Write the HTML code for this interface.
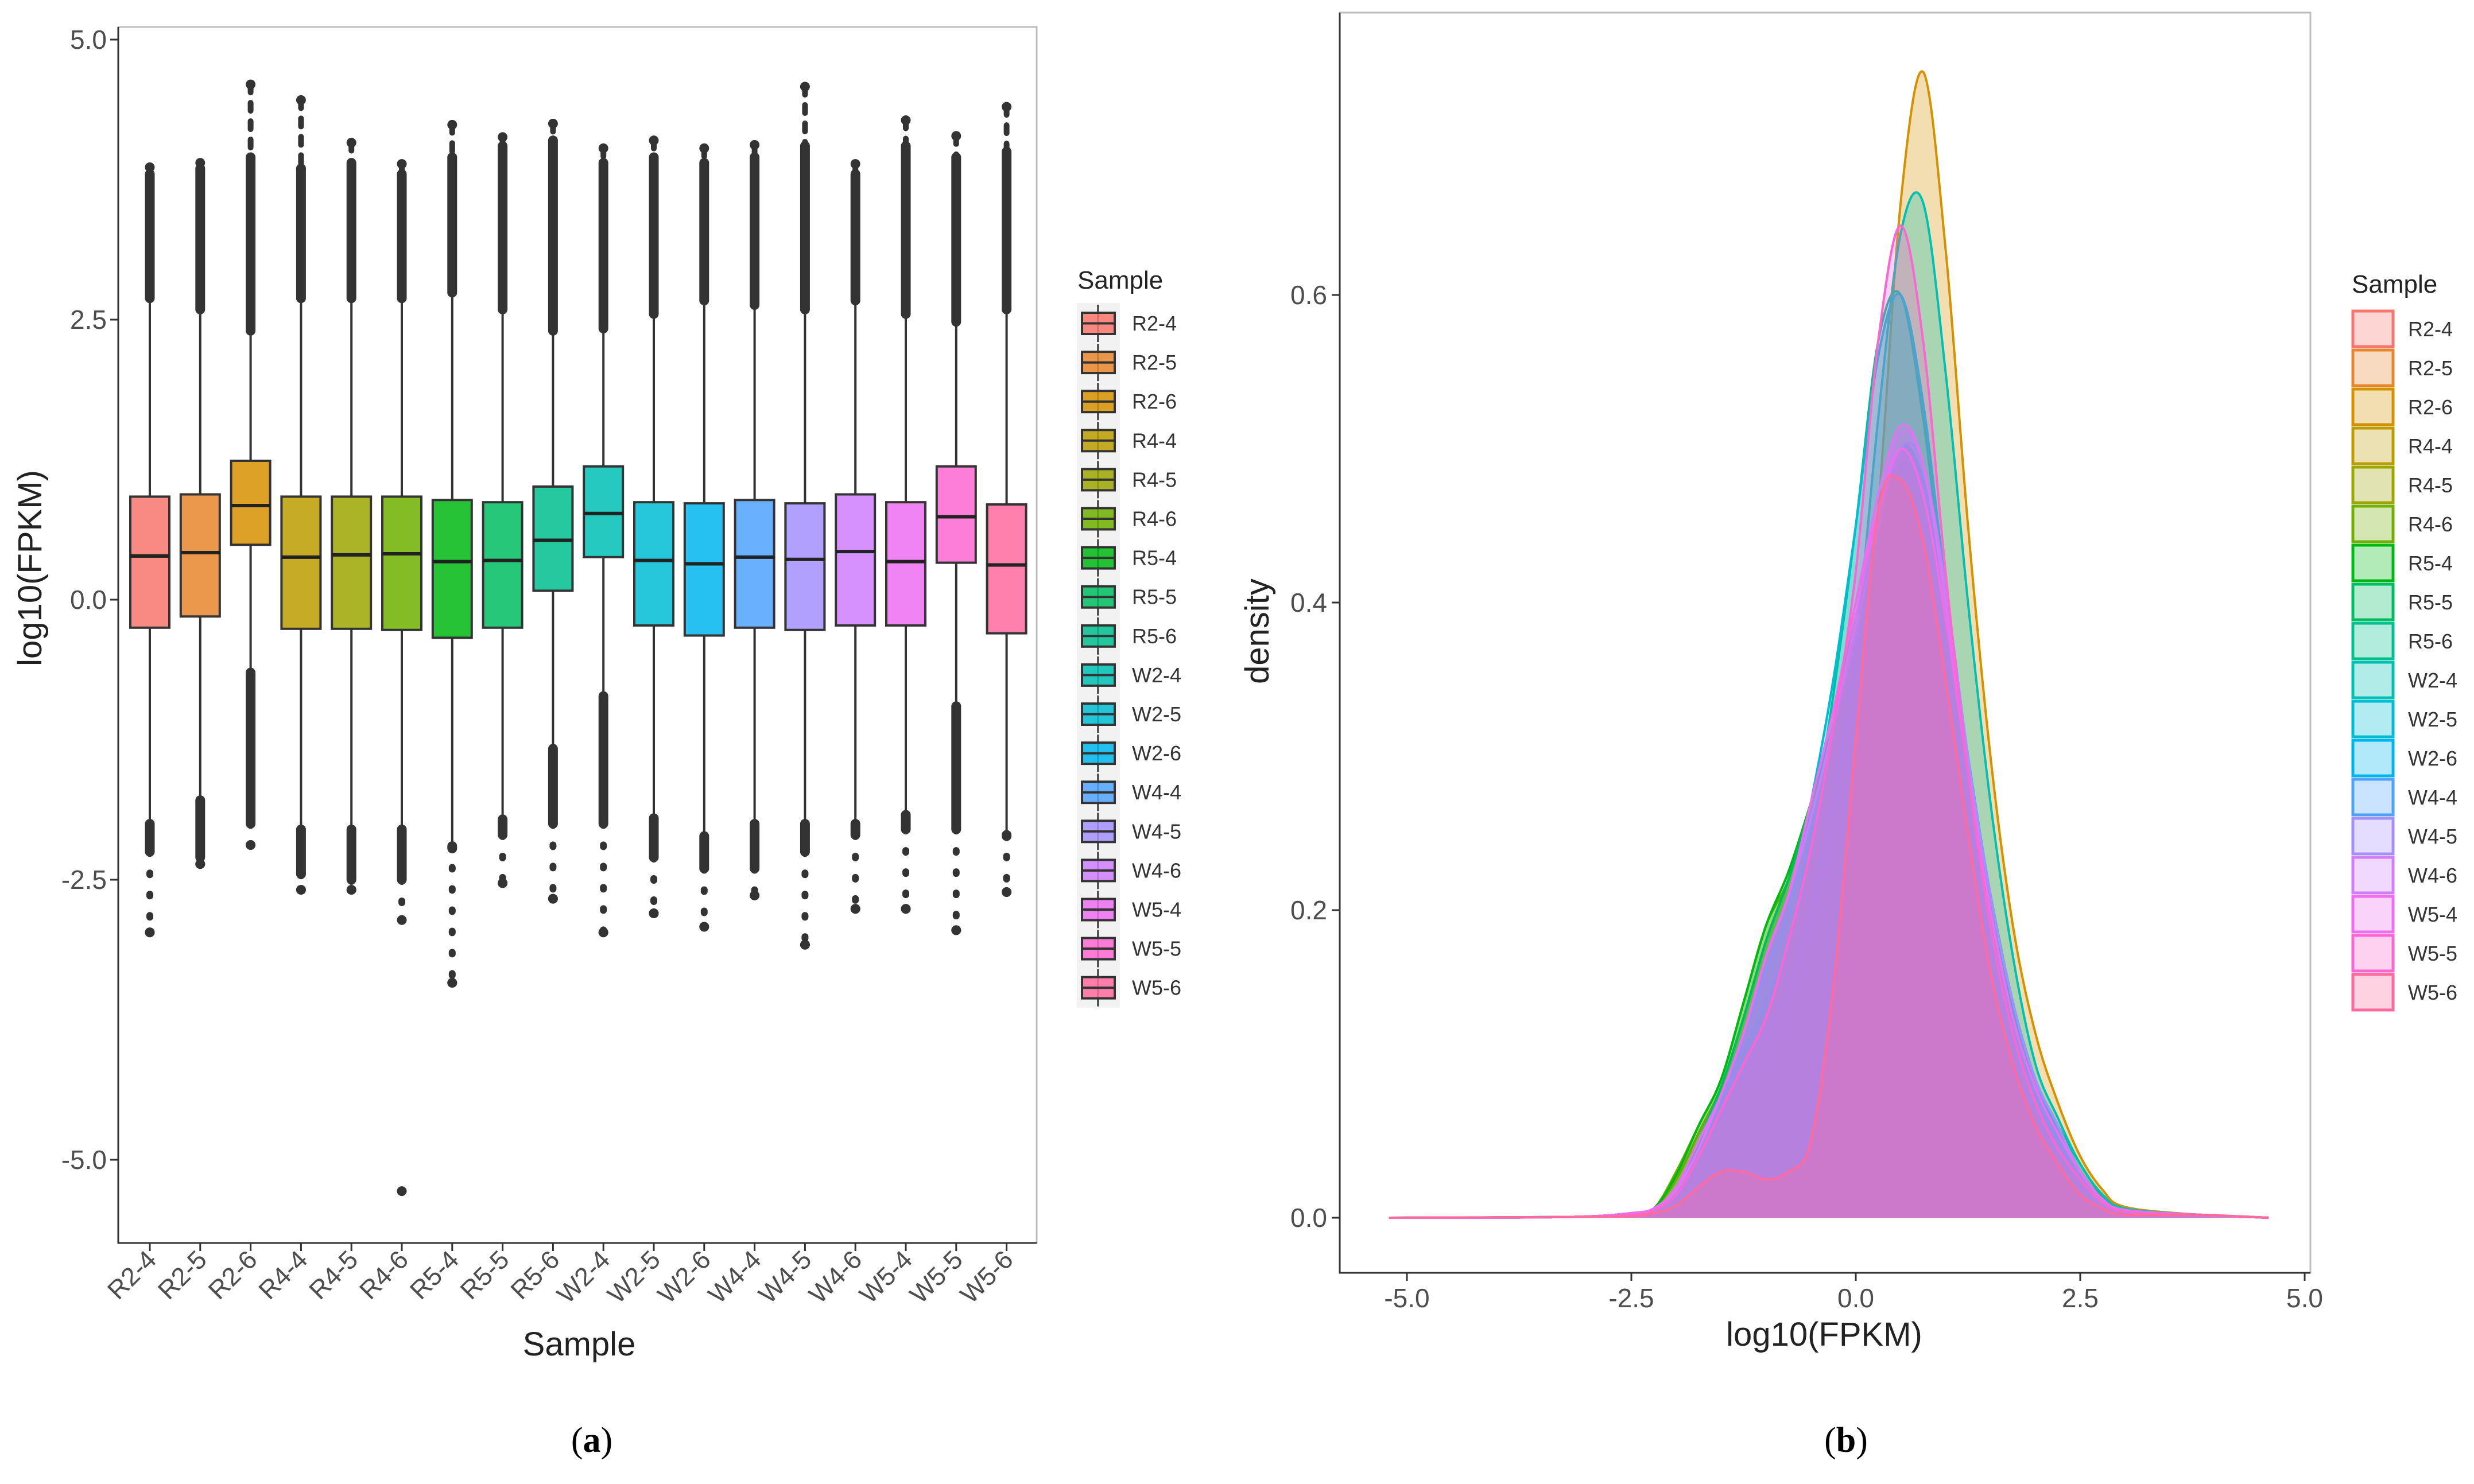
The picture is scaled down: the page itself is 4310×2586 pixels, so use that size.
<!DOCTYPE html>
<html><head><meta charset="utf-8"><style>
html,body{margin:0;padding:0;background:#fff;}
svg{display:block;font-family:"Liberation Sans",sans-serif;}
</style></head><body>
<svg id="fig" width="4310" height="2586" viewBox="0 0 4310 2586" xmlns="http://www.w3.org/2000/svg">
<rect x="0" y="0" width="4310" height="2586" fill="#fff"/>
<g id="boxPanel"></g>
<g id="densPanel"></g>
<text x="1031" y="2530" text-anchor="middle" font-family="Liberation Serif,serif" font-size="62">(<tspan font-weight="bold">a</tspan>)</text>
<text x="3216" y="2530" text-anchor="middle" font-family="Liberation Serif,serif" font-size="62">(<tspan font-weight="bold">b</tspan>)</text>
</svg>
<script>
const samples = ["R2-4","R2-5","R2-6","R4-4","R4-5","R4-6","R5-4","R5-5","R5-6","W2-4","W2-5","W2-6","W4-4","W4-5","W4-6","W5-4","W5-5","W5-6"];
const colors = ["#F8766D","#E8862E","#D69100","#BC9D00","#9CA700","#6FB000","#00B813","#00BD61","#00C08E","#00C0B4","#00BDD4","#00B5EE","#4FA2FF","#A58FFF","#D07EFF","#EE6EF2","#FB67D2","#FF6A9E"];
const q1 = [-0.25,-0.15,0.49,-0.26,-0.26,-0.27,-0.34,-0.25,0.08,0.38,-0.23,-0.32,-0.25,-0.27,-0.23,-0.23,0.33,-0.30];
const med = [0.39,0.42,0.84,0.38,0.40,0.41,0.34,0.35,0.53,0.77,0.35,0.32,0.38,0.36,0.43,0.34,0.74,0.31];
const q3 = [0.92,0.94,1.24,0.92,0.92,0.92,0.89,0.87,1.01,1.19,0.87,0.86,0.89,0.86,0.94,0.87,1.19,0.85];
const whiskLo = [-1.97,-1.76,-0.62,-2.02,-2.02,-2.02,-2.19,-1.93,-1.30,-0.83,-1.92,-2.08,-1.97,-1.97,-1.97,-1.89,-0.92,-2.08];
const whiskHi = [2.66,2.56,2.37,2.66,2.66,2.66,2.71,2.56,2.37,2.39,2.52,2.64,2.60,2.56,2.64,2.52,2.45,2.56];
const outDenseHi = [3.80,3.85,3.95,3.85,3.90,3.80,3.95,4.05,4.10,3.90,3.95,3.90,3.95,4.05,3.80,4.05,3.95,4.00];
const outMax = [3.86,3.90,4.60,4.46,4.08,3.89,4.24,4.13,4.25,4.03,4.10,4.03,4.06,4.58,3.89,4.28,4.14,4.40];
const outDenseLo = [-2.25,-2.30,-2.00,-2.45,-2.50,-2.50,-2.20,-2.10,-2.00,-2.00,-2.30,-2.40,-2.40,-2.25,-2.10,-2.05,-2.05,-2.10];
const outSparseLo = [-2.97,-2.36,-2.19,-2.59,-2.59,-2.86,-3.42,-2.53,-2.67,-2.97,-2.80,-2.92,-2.64,-3.08,-2.76,-2.76,-2.95,-2.61];
const outMin = [-2.97,-2.36,-2.19,-2.59,-2.59,-5.28,-3.42,-2.53,-2.67,-2.97,-2.80,-2.92,-2.64,-3.08,-2.76,-2.76,-2.95,-2.61];
const yTicksL = [5.0,2.5,0.0,-2.5,-5.0];
const yTickLabelsL = ["5.0","2.5","0.0","-2.5","-5.0"];

const densX = [-2.5,-2.25,-2.0,-1.75,-1.5,-1.25,-1.0,-0.75,-0.5,-0.25,0.0,0.25,0.5,0.75,1.0,1.25,1.5,1.75,2.0,2.25,2.5,2.75,3.0];
const dR24 = [.003,.006,.02,.05,.08,.12,.17,.21,.26,.31,.37,.43,.48,.47,.39,.29,.20,.13,.085,.055,.03,.012,.005];
const dR25 = [.003,.006,.02,.05,.08,.12,.17,.21,.26,.31,.37,.43,.49,.48,.40,.30,.21,.14,.09,.06,.03,.013,.005];
const dR26 = [.002,.005,.015,.04,.06,.08,.10,.13,.17,.23,.31,.46,.66,.745,.63,.45,.30,.19,.12,.075,.04,.018,.007];
const dR44 = [.003,.006,.025,.055,.085,.13,.18,.22,.27,.32,.38,.44,.50,.48,.40,.30,.21,.14,.09,.06,.03,.012,.005];
const dR45 = [.003,.006,.025,.055,.085,.13,.18,.22,.27,.32,.38,.44,.50,.48,.40,.30,.21,.14,.09,.06,.03,.012,.005];
const dR46 = [.003,.006,.03,.06,.09,.14,.19,.22,.27,.32,.38,.44,.49,.47,.39,.29,.21,.14,.09,.06,.03,.012,.005];
const dR54 = [.003,.006,.028,.06,.09,.14,.19,.225,.27,.32,.38,.44,.49,.47,.39,.29,.21,.14,.09,.06,.03,.012,.005];
const dR55 = [.003,.006,.02,.05,.085,.13,.18,.22,.27,.33,.39,.45,.50,.48,.40,.30,.21,.14,.09,.06,.035,.014,.005];
const dR56 = [.002,.005,.02,.05,.08,.11,.14,.18,.25,.34,.45,.57,.60,.52,.40,.29,.20,.13,.08,.05,.03,.012,.005];
const dW24 = [.002,.005,.02,.05,.08,.10,.12,.15,.20,.27,.37,.52,.64,.66,.55,.40,.27,.17,.10,.065,.035,.015,.006];
const dW25 = [.002,.005,.02,.05,.08,.12,.16,.20,.27,.35,.45,.56,.60,.53,.41,.30,.21,.14,.09,.055,.03,.012,.005];
const dW26 = [.003,.006,.018,.045,.08,.12,.17,.21,.26,.32,.38,.45,.50,.48,.40,.30,.21,.14,.09,.06,.03,.012,.005];
const dW44 = [.003,.006,.018,.045,.08,.12,.17,.21,.26,.32,.38,.45,.50,.49,.41,.30,.21,.14,.09,.06,.03,.012,.005];
const dW45 = [.003,.006,.018,.045,.08,.12,.17,.21,.26,.32,.39,.46,.51,.49,.41,.30,.21,.14,.09,.06,.03,.012,.005];
const dW46 = [.003,.006,.018,.045,.08,.12,.17,.21,.27,.33,.40,.47,.515,.49,.40,.29,.20,.13,.085,.055,.03,.012,.005];
const dW54 = [.003,.006,.02,.05,.08,.12,.17,.21,.27,.33,.40,.46,.50,.47,.39,.29,.20,.13,.085,.055,.03,.012,.005];
const dW55 = [.002,.005,.015,.04,.07,.10,.13,.18,.24,.32,.42,.57,.645,.57,.42,.29,.19,.12,.075,.045,.025,.01,.004];
const dW56 = [.001,.003,.008,.02,.03,.03,.025,.03,.05,.15,.31,.46,.48,.44,.35,.25,.16,.10,.06,.035,.015,.006,.002];
const densities = [dR24,dR25,dR26,dR44,dR45,dR46,dR54,dR55,dR56,dW24,dW25,dW26,dW44,dW45,dW46,dW54,dW55,dW56];
const xTicksR = [-5.0,-2.5,0.0,2.5,5.0];
const xTickLabelsR = ["-5.0","-2.5","0.0","2.5","5.0"];
const yTicksR = [0.0,0.2,0.4,0.6];
const yTickLabelsR = ["0.0","0.2","0.4","0.6"];

const NS="http://www.w3.org/2000/svg";
function mk(tag, attrs, parent){const e=document.createElementNS(NS,tag);for(const k in attrs)e.setAttribute(k,attrs[k]);parent.appendChild(e);return e;}

// ---------- Box panel ----------
const bp=document.getElementById('boxPanel');
const L={x0:206,x1:1806,y0:47,y1:2166};
const yL=v=>1045-v*195.2;
const xL=i=>261+i*87.8;
const bw=68;
let fr=mk('rect',{x:L.x0,y:L.y0,width:L.x1-L.x0,height:L.y1-L.y0,fill:'#fff',stroke:'#bdbdbd','stroke-width':3},bp);


yTicksL.forEach((t,k)=>{
  let tk=mk('line',{x1:L.x0-14,x2:L.x0,y1:yL(t),y2:yL(t),stroke:'#333','stroke-width':3},bp);
  
  
  let tx=mk('text',{x:L.x0-20,y:yL(t)+16,'text-anchor':'end','font-size':46,fill:'#4d4d4d'},bp);
  tx.textContent=yTickLabelsL[k];
  
  
});
const legBg=mk('rect',{x:1876,y:528,width:75,height:68.1*18+2,fill:'#f2f2f2'},bp);


samples.forEach((s,i)=>{
  const cx=xL(i);
  const g=mk('g',{},bp);
  
  
  mk('line',{x1:cx,x2:cx,y1:yL(whiskHi[i]),y2:yL(q3[i]),stroke:'#333','stroke-width':4},g);
  mk('line',{x1:cx,x2:cx,y1:yL(q1[i]),y2:yL(whiskLo[i]),stroke:'#333','stroke-width':4},g);
  mk('line',{x1:cx,x2:cx,y1:yL(outDenseHi[i]),y2:yL(whiskHi[i])-6,stroke:'#333','stroke-width':17,'stroke-linecap':'round'},g);
  mk('line',{x1:cx,x2:cx,y1:yL(outMax[i]),y2:yL(outDenseHi[i]),stroke:'#333','stroke-width':10,'stroke-dasharray':'14 18','stroke-linecap':'round'},g);
  mk('circle',{cx:cx,cy:yL(outMax[i]),r:8.5,fill:'#333'},g);
  mk('line',{x1:cx,x2:cx,y1:yL(whiskLo[i])+6,y2:yL(outDenseLo[i]),stroke:'#333','stroke-width':17,'stroke-linecap':'round'},g);
  mk('line',{x1:cx,x2:cx,y1:yL(outDenseLo[i]),y2:yL(outSparseLo[i]),stroke:'#333','stroke-width':12,'stroke-dasharray':'3 34','stroke-linecap':'round'},g);
  mk('circle',{cx:cx,cy:yL(outSparseLo[i]),r:8.5,fill:'#333'},g);
  mk('circle',{cx:cx,cy:yL(outMin[i]),r:8.5,fill:'#333'},g);
  mk('rect',{x:cx-bw/2,y:yL(q3[i]),width:bw,height:yL(q1[i])-yL(q3[i]),fill:colors[i],'fill-opacity':0.85,stroke:'#333','stroke-width':4},g);
  mk('line',{x1:cx-bw/2,x2:cx+bw/2,y1:yL(med[i]),y2:yL(med[i]),stroke:'#222','stroke-width':6},g);
  let tk=mk('line',{x1:cx,x2:cx,y1:L.y1,y2:L.y1+14,stroke:'#333','stroke-width':3},bp);
  
  
  let tx=mk('text',{x:cx+14,y:L.y1+32,'text-anchor':'end','font-size':45,fill:'#4d4d4d',transform:`rotate(-45 ${cx+14} ${L.y1+32})`},bp);
  tx.textContent=s;
  
  
  const ly=545+i*68.1;
  const lg=mk('g',{},bp);
  
  
  mk('line',{x1:1913,x2:1913,y1:ly-14,y2:ly+51,stroke:'#555','stroke-width':4},lg);
  mk('rect',{x:1885,y:ly,width:57,height:37,fill:colors[i],'fill-opacity':0.85,stroke:'#333','stroke-width':4},lg);
  mk('line',{x1:1885,x2:1942,y1:ly+18.5,y2:ly+18.5,stroke:'#333','stroke-width':4},lg);
  let lt=mk('text',{x:1972,y:ly+31,'font-size':36,fill:'#333'},lg);
  lt.textContent=s;
});
let t1=mk('text',{x:1877,y:503,'font-size':44,fill:'#222'},bp);t1.textContent='Sample';


let axl=mk('path',{d:`M${L.x0} ${L.y0} V${L.y1} H${L.x1}`,fill:'none',stroke:'#333','stroke-width':3},bp);


let xt=mk('text',{x:1009,y:2362,'text-anchor':'middle','font-size':58,fill:'#222'},bp);xt.textContent='Sample';


let yt=mk('text',{x:72,y:990,'text-anchor':'middle','font-size':58,fill:'#222',transform:'rotate(-90 72 990)'},bp);yt.textContent='log10(FPKM)';



// ---------- Density panel ----------
const dp=document.getElementById('densPanel');
const R={x0:2334,x1:4025,y0:22,y1:2218};
const xR=v=>3233+v*156.4;
const yR=d=>2122-d*2680;
let fr2=mk('rect',{x:R.x0,y:R.y0,width:R.x1-R.x0,height:R.y1-R.y0,fill:'#fff',stroke:'#bdbdbd','stroke-width':3},dp);


function smoothPath(pts){
  let d=`M${pts[0][0]} ${pts[0][1]}`;
  for(let k=0;k<pts.length-1;k++){
    const p0=pts[Math.max(0,k-1)],p1=pts[k],p2=pts[k+1],p3=pts[Math.min(pts.length-1,k+2)];
    const c1=[p1[0]+(p2[0]-p0[0])/6,p1[1]+(p2[1]-p0[1])/6];
    const c2=[p2[0]-(p3[0]-p1[0])/6,p2[1]-(p3[1]-p1[1])/6];
    d+=` C${c1[0]} ${Math.min(c1[1],yR(0))} ${c2[0]} ${Math.min(c2[1],yR(0))} ${p2[0]} ${p2[1]}`;
  }
  return d;
}
samples.forEach((s,i)=>{
  const pts=[[xR(-5.2),yR(0)],[xR(-3.2),yR(0.0005)]];
  densX.forEach((x,k)=>pts.push([xR(x),yR(densities[i][k])]));
  pts.push([xR(3.8),yR(0.002)]);pts.push([xR(4.6),yR(0)]);
  const line=smoothPath(pts);
  let a=mk('path',{d:line+` L${xR(-5.2)} ${yR(0)} Z`,fill:colors[i],'fill-opacity':0.3,stroke:'none'},dp);
  
  
  let l=mk('path',{d:line,fill:'none',stroke:colors[i],'stroke-width':4},dp);
  
  
  const ly=539+i*68;
  const lg=mk('g',{},dp);
  
  
  mk('rect',{x:4099,y:ly+3,width:70,height:62,fill:colors[i],'fill-opacity':0.3,stroke:colors[i],'stroke-width':5},lg);
  let lt=mk('text',{x:4195,y:ly+47,'font-size':36,fill:'#333'},lg);
  lt.textContent=s;
});
yTicksR.forEach((t,k)=>{
  let tk=mk('line',{x1:R.x0-14,x2:R.x0,y1:yR(t),y2:yR(t),stroke:'#333','stroke-width':3},dp);
  
  
  let tx=mk('text',{x:R.x0-22,y:yR(t)+16,'text-anchor':'end','font-size':46,fill:'#4d4d4d'},dp);
  tx.textContent=yTickLabelsR[k];
  
  
});
xTicksR.forEach((t,k)=>{
  let tk=mk('line',{x1:xR(t),x2:xR(t),y1:R.y1,y2:R.y1+14,stroke:'#333','stroke-width':3},dp);
  
  
  let tx=mk('text',{x:xR(t),y:R.y1+60,'text-anchor':'middle','font-size':46,fill:'#4d4d4d'},dp);
  tx.textContent=xTickLabelsR[k];
  
  
});
let axr=mk('path',{d:`M${R.x0} ${R.y0} V${R.y1} H${R.x1}`,fill:'none',stroke:'#333','stroke-width':3},dp);


let t2=mk('text',{x:4097,y:510,'font-size':44,fill:'#222'},dp);t2.textContent='Sample';


let xt2=mk('text',{x:3178,y:2345,'text-anchor':'middle','font-size':58,fill:'#222'},dp);xt2.textContent='log10(FPKM)';


let yt2=mk('text',{x:2210,y:1100,'text-anchor':'middle','font-size':58,fill:'#222',transform:'rotate(-90 2210 1100)'},dp);yt2.textContent='density';


</script>
</body></html>
